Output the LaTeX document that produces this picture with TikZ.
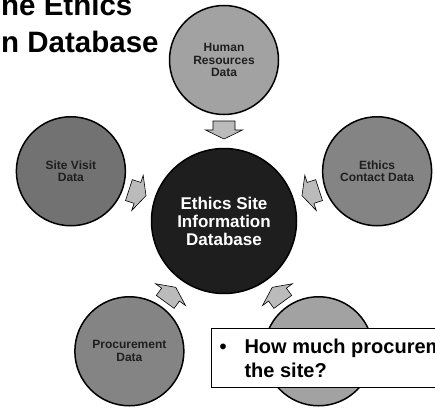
\documentclass[tikz,border=0pt]{standalone}
\usepackage{fontspec}
\setmainfont{Liberation Sans}
\usepackage{xcolor}
\usepackage{tikz}
\usetikzlibrary{arrows.meta,positioning,calc}

\definecolor{hubblack}{HTML}{1E1E1E}
\definecolor{lightsrc}{HTML}{A2A2A2}
\definecolor{midsrc}{HTML}{848484}
\definecolor{darksrc}{HTML}{727272}
\definecolor{feedgray}{HTML}{BBBBBB}

\begin{document}
\begin{tikzpicture}[
    x=1pt, y=1pt,
    hub/.style={circle, draw, line width=1.5pt, fill=hubblack, minimum size=145pt, inner sep=0pt, text=white, align=center, font=\fontsize{17}{18}\selectfont\bfseries},
    source/.style={circle, draw, line width=1.5pt, minimum size=109pt, inner sep=0pt, align=center, text=black!88, font=\fontsize{12}{12.8}\selectfont\bfseries},
    feed/.pic={\draw[line width=0.6pt, fill=feedgray] (-9,-11) -- (0,-11) -- (0,-18.5) -- (9,0) -- (0,18.5) -- (0,11) -- (-9,11) -- cycle;},
    title/.style={anchor=north west, inner sep=0pt, align=left, font=\fontsize{29.5}{37}\selectfont\bfseries},
    callout/.style={rectangle, draw, line width=1pt, fill=white, anchor=north west, minimum height=59pt, minimum width=240pt, inner xsep=7pt, inner ysep=0pt, align=left, font=\fontsize{20}{24}\selectfont\bfseries}
]
    \path[use as bounding box, clip] (0,0) rectangle (435,413);

    % Title
    \node[title] (head) at (1,419.5) {ne Ethics\\n Database};

    % Central database
    \node[hub] (db) at (224,192) {Ethics Site\\Information\\Database};

    % Data sources around it
    \node[source, fill=lightsrc] (hr) at ($(db)+(90:161)$) {Human\\Resources\\Data};
    \node[source, fill=darksrc] (visit) at ($(db)+(162:161)$) {Site Visit\\Data};
    \node[source, fill=midsrc] (contact) at ($(db)+(18:161)$) {Ethics\\Contact Data};
    \node[source, fill=midsrc] (procure) at ($(db)+(234:161)$) {Procurement\\Data};
    \node[source, fill=lightsrc] (other) at ($(db)+(306:161)$) {};

    % Feed arrows into the database
    \pic[rotate=270] (hrfeed) at ($(db)!91pt!(hr)$) {feed};
    \pic[rotate=342] (visitfeed) at ($(db)!91pt!(visit)$) {feed};
    \pic[rotate=198] (contactfeed) at ($(db)!91pt!(contact)$) {feed};
    \pic[rotate=54] (procurefeed) at ($(db)!91pt!(procure)$) {feed};
    \pic[rotate=126] (otherfeed) at ($(db)!91pt!(other)$) {feed};

    % Question box
    \node[callout] (ask) at (211,85) {\makebox[25pt][l]{\textbullet}How much procurem\\\hspace*{25pt}the site?};
\end{tikzpicture}
\end{document}
